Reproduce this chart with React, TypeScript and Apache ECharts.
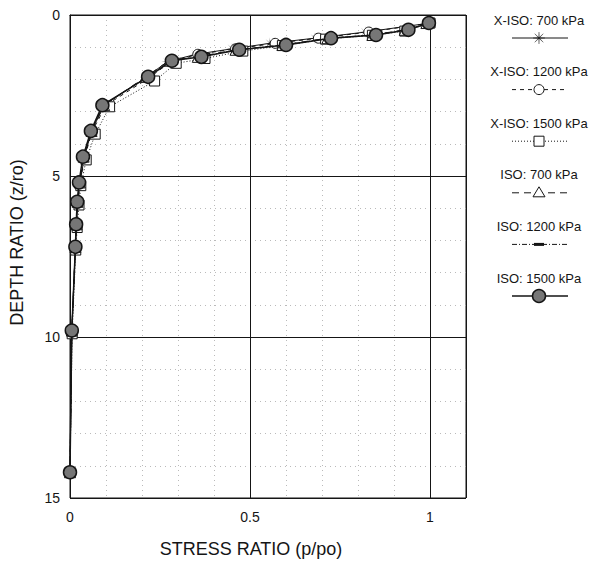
import React, { useEffect, useRef } from "react";
import * as echarts from "echarts";

// ---- data ----
const depthIso = [0.25, 0.46, 0.62, 0.72, 0.93, 1.08, 1.3, 1.42, 1.92, 2.8, 3.6, 4.4, 5.2, 5.8, 6.5, 7.2, 9.8, 14.2];
const stressIso1500 = [0.997, 0.94, 0.85, 0.725, 0.6, 0.47, 0.365, 0.283, 0.217, 0.09, 0.058, 0.036, 0.025, 0.02, 0.017, 0.015, 0.005, 0.0];
const stressIso1200 = [0.995, 0.935, 0.845, 0.72, 0.595, 0.465, 0.36, 0.28, 0.215, 0.092, 0.059, 0.037, 0.026, 0.021, 0.017, 0.015, 0.005, 0.0];
const stressIso700 = [0.99, 0.93, 0.84, 0.715, 0.59, 0.46, 0.355, 0.275, 0.21, 0.095, 0.06, 0.038, 0.027, 0.021, 0.018, 0.015, 0.005, 0.0];

const depthXIso = [0.25, 0.53, 0.72, 0.88, 1.05, 1.22, 1.45, 1.95, 2.8, 3.6, 4.4, 5.2, 5.8, 6.5, 7.2, 9.8, 14.2];
const stressXIso700 = [1.0, 0.82, 0.68, 0.555, 0.45, 0.35, 0.27, 0.21, 0.095, 0.06, 0.04, 0.028, 0.022, 0.018, 0.015, 0.005, 0.0];
const stressXIso1200 = [1.0, 0.83, 0.69, 0.57, 0.46, 0.355, 0.28, 0.22, 0.1, 0.062, 0.041, 0.028, 0.022, 0.018, 0.015, 0.005, 0.0];

const depthXIso1500 = [0.25, 0.5, 0.63, 0.75, 0.95, 1.12, 1.35, 1.5, 2.05, 2.85, 3.7, 4.5, 5.3, 5.9, 6.6, 7.3, 9.9, 14.2];
const stressXIso1500 = [1.0, 0.93, 0.84, 0.71, 0.59, 0.48, 0.375, 0.295, 0.235, 0.11, 0.07, 0.045, 0.03, 0.025, 0.02, 0.016, 0.006, 0.0];

const legendLabels = [
  "X-ISO: 700 kPa",
  "X-ISO: 1200 kPa",
  "X-ISO: 1500 kPa",
  "ISO: 700 kPa",
  "ISO: 1200 kPa",
  "ISO: 1500 kPa",
];

const xTitle = "STRESS RATIO (p/po)";
const yTitle = "DEPTH RATIO (z/ro)";

// ---- helpers ----
const pairs = (xs: number[], ys: number[]) => xs.map((x, i) => [x, ys[i]]);

function starPoints(cx: number, cy: number, r: number, rIn: number, n: number) {
  const pts: number[][] = [];
  for (let i = 0; i < n * 2; i++) {
    const a = (Math.PI * i) / n - Math.PI / 2;
    const rr = i % 2 === 0 ? r : rIn;
    pts.push([cx + rr * Math.cos(a), cy + rr * Math.sin(a)]);
  }
  return pts;
}
const starPath =
  "path://" +
  starPoints(10, 10, 10, 1, 8)
    .map((p, i) => (i === 0 ? "M" : "L") + p[0].toFixed(2) + "," + p[1].toFixed(2))
    .join(" ") +
  " Z";

const FONT = '"Liberation Sans", Arial, Helvetica, sans-serif';
const INK = "#151515";

export default function App() {
  const ref = useRef<HTMLDivElement>(null);

  useEffect(() => {
    if (!ref.current) return;
    const chart = echarts.init(ref.current, undefined, { renderer: "svg" });

    const lx = 539;
    const lineX1 = 512;
    const lineX2 = 568;
    const legendGraphics: any[] = [];
    legendLabels.forEach((label, i) => {
      const ty = 20 + i * 51.6;
      const sy = ty + 18;
      legendGraphics.push({
        type: "text",
        silent: true,
        style: {
          text: label,
          x: lx,
          y: ty,
          textAlign: "center",
          textVerticalAlign: "middle",
          font: `13px ${FONT}`,
          fill: INK,
        },
      });
      const dashes: any[] = ["solid", [4, 4], [1, 2], [7, 5], [5, 2, 1, 2], "solid"];
      legendGraphics.push({
        type: "line",
        silent: true,
        shape: { x1: lineX1, y1: sy, x2: lineX2, y2: sy },
        style: {
          stroke: INK,
          lineWidth: i === 5 ? 1.4 : 1,
          lineDash: dashes[i] === "solid" ? null : dashes[i],
        },
      });
      if (i === 0) {
        legendGraphics.push({
          type: "polygon",
          silent: true,
          shape: { points: starPoints(lx, sy, 6, 0.6, 8) },
          style: { fill: INK, stroke: INK, lineWidth: 0.3 },
        });
      } else if (i === 1) {
        legendGraphics.push({
          type: "circle",
          silent: true,
          shape: { cx: lx, cy: sy, r: 5 },
          style: { fill: "#fff", stroke: INK, lineWidth: 1 },
        });
      } else if (i === 2) {
        legendGraphics.push({
          type: "rect",
          silent: true,
          shape: { x: lx - 5, y: sy - 5, width: 10, height: 10 },
          style: { fill: "#fff", stroke: INK, lineWidth: 1 },
        });
      } else if (i === 3) {
        legendGraphics.push({
          type: "polygon",
          silent: true,
          shape: { points: [[lx, sy - 6], [lx + 6, sy + 4], [lx - 6, sy + 4]] },
          style: { fill: "#fff", stroke: INK, lineWidth: 1 },
        });
      } else if (i === 4) {
        legendGraphics.push({
          type: "rect",
          silent: true,
          shape: { x: lx - 5, y: sy - 1.5, width: 10, height: 3 },
          style: { fill: INK },
        });
      } else {
        legendGraphics.push({
          type: "circle",
          silent: true,
          shape: { cx: lx, cy: sy, r: 6.5 },
          style: { fill: "#767676", stroke: INK, lineWidth: 1.5 },
        });
      }
    });

    const option: any = {
      animation: false,
      backgroundColor: "#ffffff",
      grid: {
        left: 66,
        top: 15,
        width: 400,
        height: 485,
        show: true,
        borderColor: INK,
        borderWidth: 1,
        backgroundColor: "transparent",
      },
      xAxis: {
        type: "value",
        min: 0,
        max: 1.1,
        interval: 0.5,
        name: xTitle,
        nameLocation: "middle",
        nameGap: 42,
        nameTextStyle: { fontFamily: FONT, fontSize: 18, color: INK, padding: [0, 34, 0, 0] },
        axisLine: { show: true, lineStyle: { color: INK, width: 1 } },
        axisTick: { show: false },
        axisLabel: {
          fontFamily: FONT,
          fontSize: 14,
          color: INK,
          margin: 12,
          showMaxLabel: false,
          formatter: (v: number) => (v > 1.05 ? "" : String(v)),
        },
        splitLine: { show: true, lineStyle: { color: INK, width: 1 } },
        minorTick: { show: false, splitNumber: 5 },
        minorSplitLine: { show: true, lineStyle: { color: "#a8a8a8", width: 0.8, type: [1, 4] } },
      },
      yAxis: {
        type: "value",
        inverse: true,
        min: 0,
        max: 15,
        interval: 5,
        name: yTitle,
        nameLocation: "middle",
        nameGap: 44,
        nameRotate: 90,
        nameTextStyle: { fontFamily: FONT, fontSize: 18, color: INK, padding: [0, 0, 0, 28] },
        axisLine: { show: true, lineStyle: { color: INK, width: 1 } },
        axisTick: { show: false },
        axisLabel: { fontFamily: FONT, fontSize: 14, color: INK, margin: 10 },
        splitLine: { show: true, lineStyle: { color: INK, width: 1 } },
        minorTick: { show: false, splitNumber: 5 },
        minorSplitLine: { show: true, lineStyle: { color: "#a8a8a8", width: 0.8, type: [1, 4] } },
      },
      series: [
        {
          name: legendLabels[0],
          type: "line",
          data: pairs(stressXIso700, depthXIso),
          symbol: starPath,
          symbolSize: 12,
          itemStyle: { color: INK },
          lineStyle: { color: INK, width: 1 },
          z: 2,
        },
        {
          name: legendLabels[1],
          type: "line",
          data: pairs(stressXIso1200, depthXIso),
          symbol: "circle",
          symbolSize: 10,
          itemStyle: { color: "#fff", borderColor: INK, borderWidth: 1 },
          lineStyle: { color: INK, width: 1, type: [4, 4] },
          z: 3,
        },
        {
          name: legendLabels[2],
          type: "line",
          data: pairs(stressXIso1500, depthXIso1500),
          symbol: "rect",
          symbolSize: 10,
          itemStyle: { color: "#fff", borderColor: INK, borderWidth: 1 },
          lineStyle: { color: INK, width: 1, type: [1, 2] },
          z: 3,
        },
        {
          name: legendLabels[3],
          type: "line",
          data: pairs(stressIso700, depthIso),
          symbol: "triangle",
          symbolSize: 11,
          itemStyle: { color: "#fff", borderColor: INK, borderWidth: 1 },
          lineStyle: { color: INK, width: 1, type: [7, 5] },
          z: 4,
        },
        {
          name: legendLabels[4],
          type: "line",
          data: pairs(stressIso1200, depthIso),
          symbol: "rect",
          symbolSize: [9, 3],
          itemStyle: { color: INK },
          lineStyle: { color: INK, width: 1, type: [5, 2, 1, 2] },
          z: 5,
        },
        {
          name: legendLabels[5],
          type: "line",
          data: pairs(stressIso1500, depthIso),
          symbol: "circle",
          symbolSize: 13,
          itemStyle: { color: "#767676", borderColor: INK, borderWidth: 1.5 },
          lineStyle: { color: INK, width: 1.5 },
          z: 6,
        },
      ],
      graphic: legendGraphics,
    };

    chart.setOption(option);
    return () => chart.dispose();
  }, []);

  return <div ref={ref} style={{ width: 592, height: 563, position: "absolute", left: 0, top: 0 }} />;
}
